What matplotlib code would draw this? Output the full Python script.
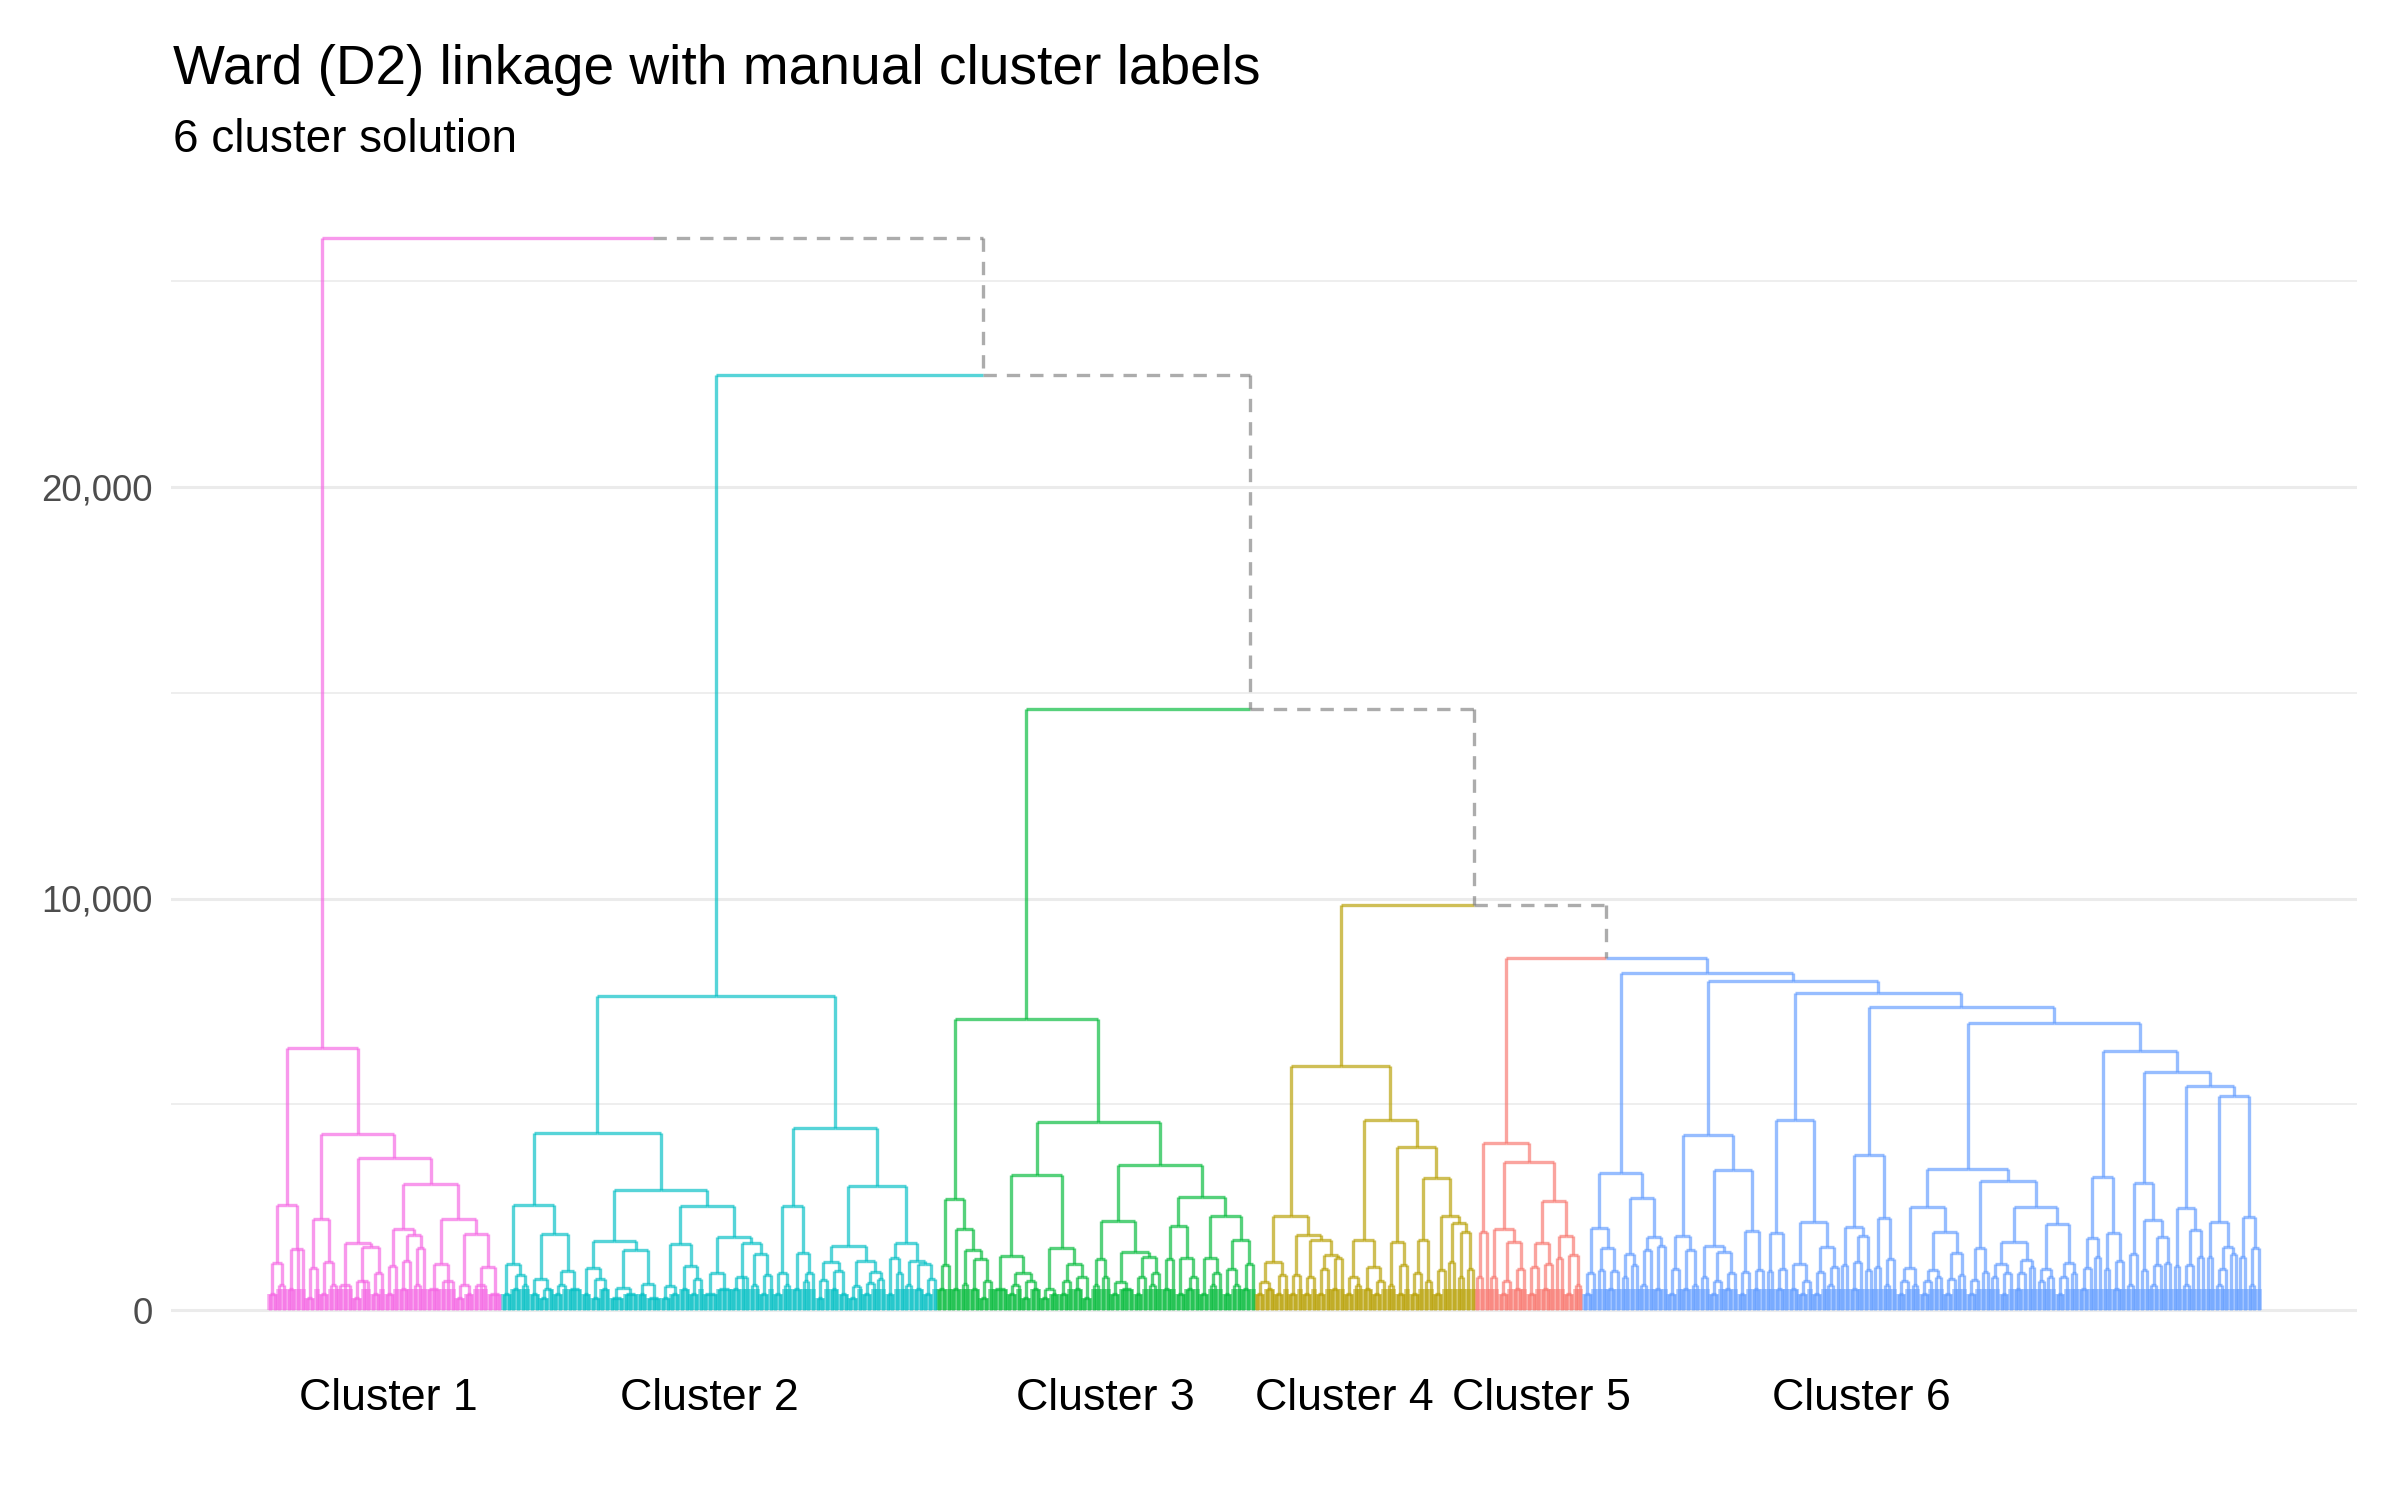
import matplotlib.pyplot as plt
from matplotlib.collections import LineCollection
from matplotlib.ticker import FuncFormatter, FixedLocator

plt.rcParams['font.family'] = ['Liberation Sans', 'DejaVu Sans']

# 1. data -------------------------------------------------------------
cluster_names = ['Cluster 1', 'Cluster 2', 'Cluster 3', 'Cluster 4', 'Cluster 5', 'Cluster 6']
cluster_colors = ['#F564E3', '#00BFC4', '#00BA38', '#B79F00', '#F8766D', '#619CFF']

# height at which cluster k joins the block of clusters to its right
top_heights = [26060, 22710, 14610, 9850, 8550]

# where the manual labels sit, as a fraction of the leaf range
label_frac = [0.0597, 0.2207, 0.4198, 0.5400, 0.6390, 0.7999]

y_ticks = [0, 10000, 20000]
y_minor = [5000, 15000, 25000]

# cluster sub-trees: "(a b)h" = merge at height h (x100), "x" = leaf
HEIGHT_UNIT = 100

tree_c1 = """
(
  ( ((xx)4 (xx)6)11.5 ((xx)5 xx)14.8 )25.5
  (
    ( ((xx)3 x)10.1 ((xx)4 (xx)6)11.7 )22
    (
      ( (xxx)6 ( ((xx)3 xx)7 ((xx)4 x)9 )15.4 )16.2
      (
        ( ((xx)4 x)10.7 ( ((xx)5 x)12 ((xx)6 x)15 )18.2 )19.6
        ( ((xxx)5 (xxx)7)11.3 ( ((xx)3 (xx)4)6 ((xxx)6 (xxx)4)10.5 )18.5 )22
      )30.6
    )36.9
  )42.8
)63.6
"""

tree_c2 = """
(
  (
    (
      ((xx)4 ((xx)5 (xx)6)8.5)11.1
      (((xx)4 ((xx)3 x)5)7.5 (((xx)4 x)6 (xxx)5)9.5)18.4
    )25.4
    (
      (
        ((xx)4 ((xx)3 (xx)5)7.6)10.3
        (((xxx)3 (xxx)4)5.3 ((xx)4 (xxx)3)6.3)14.7
      )16.8
      (
        (((xx)3 (xx)4)5.8 ((xx)5 ((xx)4 x)7.6)10.8)16
        (((xxx)4 (xxx)5)9.1 (((xx)5 xx)8 ((xx)6 ((xx)4 x)8.5)13.6)16.4)17.8
      )25.3
    )29.2
  )43.1
  (
    (((xx)4 (xx)6)9.1 ((xx)5 ((xx)7 x)9)13.9)25.3
    (
      (
        (((xx)3 x)7.2 ((xx)5 (xx)4)9.5)11.6
        (((xx)3 x)5.8 (((xx)4 x)6.5 (xx)7.5)9.2)12
      )15.6
      (((xx)4 (xx)9)12.7 ((xx)6 ((xx)5 ((xx)4 x)7.6)11.2)12)16.4
    )30.1
  )44.2
)76.2
"""

tree_c3 = """
(
  (((xx)5 x)10.9 ((xx)5 ((xx)6.4 ((xx)5 ((xx)3 x)7)12.3)14.7)19.8)27
  (
    (
      ((xxx)5.2 (((xx)4 x)6 ((xx)3 (xx)5)7)9.1)13.1
      (((xx)3 (xx)4)5 (((xx)4 x)7 ((xx)5 (xx)3)8)11.3)15
    )32.9
    (
      (((xx)6 (xx)8)12.3 (((xx)4 (xxx)5)6.8 (((xx)4 x)8 ((xx)6 x)9)13)14)21.6
      (
        (((xx)5 x)12.3 ((xx)4 ((xx)5 x)8)12.7)20.4
        (((xx)4 ((xx)6 x)9)12.7 (((xx)4 (xx)6)9.9 ((xx)5 x)11.3)17)22.8
      )27.5
    )35.2
  )45.6
)70.8
"""

tree_c4 = """
(
  (
    (((xx)4 (xx)5)6.9 ((xx)4 x)8.4)11.7
    (((xx)4 x)8.4 (((xx)4 x)8.1 (((xx)4 x)10 ((xx)5 x)12.6)13.4)17)18.2
  )22.9
  (
    (((xx)4 (xx)6)8 ((xx)5 ((xx)4 x)7)10.5)17
    (
      ((xx)6 ((xx)4 x)11)16.6
      (
        (((xx)4 x)9 (xx)7)17
        (((xx)4 x)9.7 ((xx)11.7 ((xx)8 (xx)10)19)21.2)22.9
      )32
    )39.7
  )46.2
)59.4
"""

tree_c5 = """
(
  ((xx)8 x)19
  (
    ((xx)8.1 (((xx)4 x)7 ((xx)5 x)9.9)16.6)19.8
    ((((xx)4 x)10.4 ((xx)5 x)11.3)16.2 ((xx)12.6 ((xx)4 (xx)6)13.4)18)26.6
  )36
)40.7
"""

tree_c6 = """
(
  ((((xx)4 x)8.9 ((xx)9.6 ((xx)5 x)9.5)15)20
   (((xx)8 (xx)11)13.6 (((xx)6 x)14.6 ((xx)5 x)15.6)17.8)27.1)33.4
  (
    ((((xx)4 x)10 ((xx)5 (xx)6)14.7)18
     (((xx)8 (((xx)4 x)7 ((xx)5 x)9)14)15.6 (((xx)4 x)9.2 ((xx)5 x)9.6)19.2)34)42.5
    (
      (((xx)9.5 ((xx)5 x)10)18.6
       (((xx)5 ((xx)4 x)7)11.2 (((xx)4 x)9.3 ((xx)6 x)10.5)15.4)21.5)46.2
      (
        (((xx)11 (((xx)5 x)11.7 (xx)9.7)18)20.1 ((xx)10.5 ((xx)6 x)12.5)22.3)37.7
        (
          (
            ((((xx)4 x)7 (xx)6)10.1 ((((xx)4 x)7 (xx)8)9.7 (((xx)4 x)7.5 (xx)8.5)13.9)19)25.1
            (
              (((xx)4 x)7.3 (xx)9.3)15
              ((((xx)8 ((xx)4 x)9)11.2 (((xx)5 x)9 (xx)10.4)12.2)16.6
               (((xx)7 (xx)8)9.9 (((xx)4 x)8 (xx)9)11.4)20.9)25.1
            )31.4
          )34.2
          (
            ((((xx)5 x)10.2 (xx)12.8)17.4 ((xx)10 ((xx)5 x)12)18.6)32.2
            (
              (((xx)6 x)13.6 ((xx)9.8 (((xx)6 x)11 (xx)11.5)17.7)21.9)30.8
              (
                ((xx)10.8 (((xx)6 x)11 (xx)13)19.4)24.7
                (
                  ((xx)12.8 (((xx)6 x)10 (xx)13.5)15.4)21.5
                  ((xx)13 ((xx)6 x)15)22.5
                )52
              )54.4
            )57.9
          )63
        )69.7
      )73.7
    )77.1
  )80
)81.8
"""

cluster_trees = [tree_c1, tree_c2, tree_c3, tree_c4, tree_c5, tree_c6]


# 2. parse the tree strings ------------------------------------------
def parse_tree(text, cl):
    s = ''.join(text.split())
    pos = 0

    def node():
        nonlocal pos
        if s[pos] == 'x':
            pos += 1
            return {'h': 0.0, 'kids': [], 'cl': cl}
        pos += 1  # '('
        kids = []
        while s[pos] != ')':
            kids.append(node())
        pos += 1
        start = pos
        while pos < len(s) and s[pos] in '0123456789.':
            pos += 1
        return {'h': float(s[start:pos]) * HEIGHT_UNIT, 'kids': kids, 'cl': cl}

    return node()


subtrees = [parse_tree(t, i) for i, t in enumerate(cluster_trees)]
root = subtrees[-1]
for i in reversed(range(len(top_heights))):
    root = {'h': top_heights[i], 'kids': [subtrees[i], root], 'cl': None}

# 3. leaf order and node positions -----------------------------------
n_leaves = 0


def place(n):
    global n_leaves
    if not n['kids']:
        n_leaves += 1
        n['x'] = n_leaves
        return
    for k in n['kids']:
        place(k)
    n['x'] = (n['kids'][0]['x'] + n['kids'][-1]['x']) / 2


place(root)

BASE_H = 520  # dense foot of the leaf stems
segs = {i: [] for i in range(len(cluster_colors))}
segs['top'] = []
base = {i: [] for i in range(len(cluster_colors))}


def walk(n):
    for k in n['kids']:
        key = 'top' if k['cl'] is None else k['cl']
        segs[key].append([(n['x'], n['h']), (k['x'], n['h'])])
        segs[key].append([(k['x'], n['h']), (k['x'], k['h'])])
        if not k['kids']:
            base[k['cl']].append([(k['x'], 0), (k['x'], min(n['h'], BASE_H))])
        walk(k)


walk(root)

# 4. figure ----------------------------------------------------------
W, H = 2400, 1500
fig = plt.figure(figsize=(12, 7.5), dpi=200)

# panel in pixels, leaves from 270 to 2259, y=0 at 1310, 411.5 px per 10,000
px_left, px_right, px_top, px_bottom = 171, 2357, 200, 1420
leaf_first, leaf_last = 270, 2259
y0_px, px_per_unit = 1310, 411.5 / 10000

ax = fig.add_axes([px_left / W, 1 - px_bottom / H,
                   (px_right - px_left) / W, (px_bottom - px_top) / H])
ppl = (leaf_last - leaf_first) / (n_leaves - 1)
ax.set_xlim(1 - (leaf_first - px_left) / ppl, n_leaves + (px_right - leaf_last) / ppl)
ax.set_ylim((y0_px - px_bottom) / px_per_unit, (y0_px - px_top) / px_per_unit)

for y in y_ticks:
    ax.axhline(y, color='#EBEBEB', lw=1.1, zorder=0)
for y in y_minor:
    ax.axhline(y, color='#EBEBEB', lw=0.6, zorder=0)

for i, col in enumerate(cluster_colors):
    ax.add_collection(LineCollection(base[i], colors=col, linewidths=2.0,
                                     alpha=0.55, capstyle='butt', zorder=1))
    ax.add_collection(LineCollection(segs[i], colors=col, linewidths=1.2,
                                     alpha=0.66, capstyle='butt', zorder=2))
ax.add_collection(LineCollection(segs['top'], colors='grey', linewidths=1.2,
                                 alpha=0.65, linestyles=(0, (4, 3)), zorder=2))

# cluster labels
for name, f in zip(cluster_names, label_frac):
    ax.text(1 + f * (n_leaves - 1), (y0_px - 1410) / px_per_unit, name,
            ha='center', va='baseline', fontsize=16.1, color='black', clip_on=False)

ax.yaxis.set_major_locator(FixedLocator(y_ticks))
ax.yaxis.set_major_formatter(FuncFormatter(lambda v, p: f'{int(v):,}'))
ax.set_xticks([])
ax.tick_params(axis='y', length=0, pad=6.5, labelsize=13.2, labelcolor='#4D4D4D')
for sp in ax.spines.values():
    sp.set_visible(False)

fig.text(173 / W, 1 - 84 / H, 'Ward (D2) linkage with manual cluster labels',
         fontsize=19.8, va='baseline', ha='left')
fig.text(173 / W, 1 - 151.5 / H, '6 cluster solution',
         fontsize=16.5, va='baseline', ha='left')

fig.savefig('out.png', dpi=200, facecolor='white')
